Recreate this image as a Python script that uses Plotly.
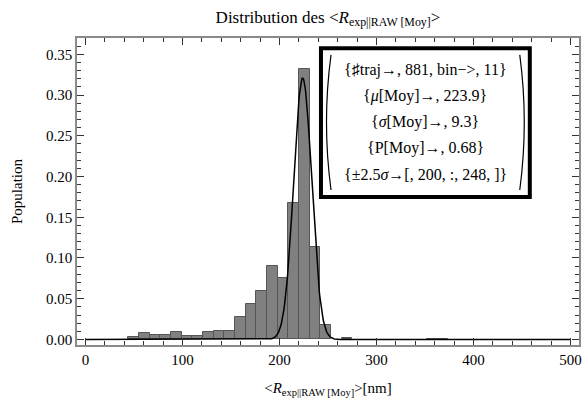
import numpy as np
import plotly.graph_objects as go

# histogram of <R> values (fraction of the 881 trajectories per 11 nm bin)
BIN_WIDTH = 11
bin_left = [44, 55, 66, 77, 88, 99, 110, 121, 132, 143, 154, 165, 176, 187,
            198, 209, 220, 231, 242, 264, 352, 363]
population = [0.0034, 0.0079, 0.0057, 0.0057, 0.0091, 0.0045, 0.0045, 0.0091,
              0.0102, 0.0102, 0.0272, 0.0431, 0.0590, 0.0897, 0.0760, 0.1669,
              0.3314, 0.1135, 0.0182, 0.0023, 0.0011, 0.0011]

# fit parameters shown in the box
N_TRAJ = 881
MU = 223.9
SIGMA = 9.3
P_MOY = 0.68
RANGE_LOW, RANGE_HIGH = 200, 248

x_ticks = [0, 100, 200, 300, 400, 500]
y_ticks = [0.00, 0.05, 0.10, 0.15, 0.20, 0.25, 0.30, 0.35]

FONT = "Liberation Serif, Times New Roman, serif"
FRAME = "#8a8a8a"
TICK = "#333333"

x_fit = np.linspace(0, 500, 1001)
y_fit = (P_MOY * BIN_WIDTH * np.exp(-0.5 * ((x_fit - MU) / SIGMA) ** 2)
         / (SIGMA * np.sqrt(2 * np.pi)))

fig = go.Figure()
fig.add_trace(go.Bar(
    x=bin_left, y=population, width=BIN_WIDTH, offset=0,
    marker=dict(color="#808080", line=dict(color="#555555", width=1)),
))
fig.add_trace(go.Scatter(
    x=x_fit, y=y_fit, mode="lines",
    line=dict(color="black", width=1.5),
))

axis_common = dict(
    showline=True, linecolor=FRAME, linewidth=1.5, mirror="ticks",
    ticks="inside", ticklen=7, tickcolor=TICK, tickwidth=1,
    showgrid=False, zeroline=False, automargin=False,
    tickfont=dict(family=FONT, size=15, color="black"),
    title_font=dict(family=FONT, size=15, color="black"),
)

fig.update_xaxes(
    range=[-8.8, 508.8], tickvals=x_ticks,
    minor=dict(dtick=20, tick0=0, ticks="inside", ticklen=4, tickcolor=TICK),
    title_text="&lt;<i>R</i><sub>exp||RAW [Moy]</sub>&gt;[nm]",
    title_standoff=16,
    **axis_common,
)
fig.update_yaxes(
    range=[-0.0068, 0.37], tickvals=y_ticks, tickformat=".2f",
    minor=dict(dtick=0.01, tick0=0, ticks="inside", ticklen=4, tickcolor=TICK),
    title_text="Population", title_standoff=20,
    **axis_common,
)

lines = [
    f"{{♯traj→, {N_TRAJ}, bin−>, {BIN_WIDTH}}}",
    f"{{<i>μ</i>[Moy]→, {MU}}}",
    f"{{<i>σ</i>[Moy]→, {SIGMA}}}",
    f"{{P[Moy]→, {P_MOY}}}",
    f"{{±2.5<i>σ</i>→[, {RANGE_LOW}, :, {RANGE_HIGH}, ]}}",
]

# legend box, paper coordinates
bx0, bx1, by0, by1 = 0.486, 0.902, 0.482, 0.967
cx = 0.694
line_y = [0.896, 0.811, 0.726, 0.642, 0.557]
annotations = [
    dict(x=cx, y=yy, xref="paper", yref="paper", text=t, showarrow=False,
         font=dict(family=FONT, size=16, color="black"),
         xanchor="center", yanchor="middle")
    for t, yy in zip(lines, line_y)
]

py0, py1 = 0.505, 0.945
pm = (py0 + py1) / 2
shapes = [
    dict(type="rect", xref="paper", yref="paper", x0=bx0, x1=bx1, y0=by0, y1=by1,
         line=dict(color="black", width=4), fillcolor="white", layer="above"),
    dict(type="path", xref="paper", yref="paper",
         path=f"M 0.506 {py1} Q 0.488 {pm} 0.506 {py0}",
         line=dict(color="black", width=1.2)),
    dict(type="path", xref="paper", yref="paper",
         path=f"M 0.882 {py1} Q 0.900 {pm} 0.882 {py0}",
         line=dict(color="black", width=1.2)),
]

fig.update_layout(
    width=585, height=407,
    margin=dict(l=77, r=6, t=38, b=62),
    paper_bgcolor="white", plot_bgcolor="white",
    showlegend=False, bargap=0, hovermode=False,
    title=dict(
        text="Distribution des &lt;<i>R</i><sub>exp||RAW [Moy]</sub>&gt;",
        x=0.5, xref="paper", xanchor="center",
        y=1 - 11 / 407, yanchor="top",
        font=dict(family=FONT, size=17, color="black"),
    ),
    shapes=shapes, annotations=annotations,
)

# drop the default 8px page margin so the figure fills the window exactly
fig.write_html(
    "out.html",
    config={"displayModeBar": False},
    post_script="document.body.style.margin = '0';",
)
